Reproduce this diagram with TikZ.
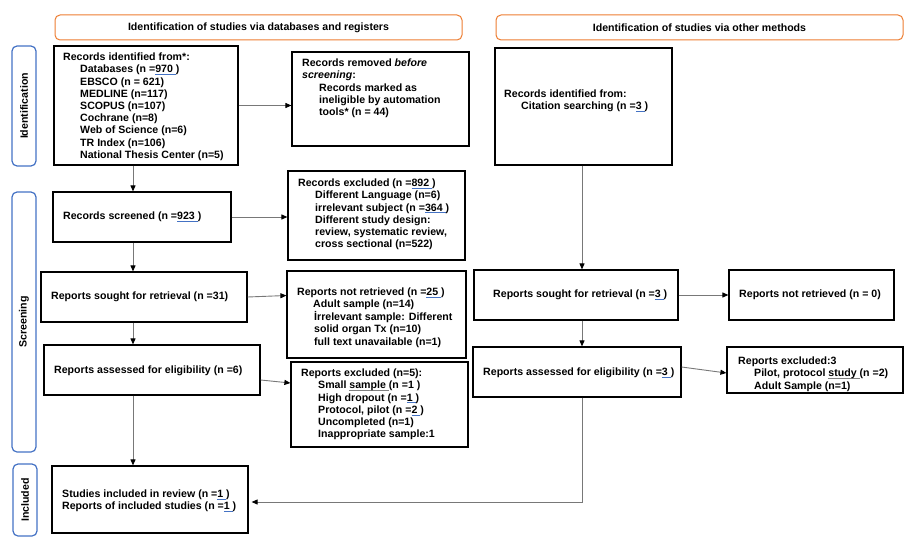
\documentclass[tikz,border=0pt]{standalone}
\usepackage{fontspec}
\setmainfont{Liberation Sans}
\usetikzlibrary{arrows.meta}
\definecolor{org}{HTML}{ED7D31}
\definecolor{blu}{HTML}{4472C4}
\definecolor{lnk}{RGB}{120,120,120}
\newcommand{\ulc}[2]{\setbox0\hbox{#2}\rlap{\textcolor{#1}{\rule[-1.8pt]{\wd0}{0.6pt}}}\box0}
\newcommand{\bu}[1]{\ulc{blu}{#1}}
\newcommand{\gu}[1]{\ulc{gray}{#1}}
\newcommand{\ind}{\hspace*{17pt}}
\newcommand{\lines}[1]{\begin{tabular}{@{}l@{}}#1\end{tabular}}
\begin{document}
\begin{tikzpicture}[x=1pt,y=-1pt,
  box/.style={draw=black,line width=1.2pt,inner sep=0pt},
  hdr/.style={draw=org,line width=1pt,rounded corners=5pt,inner sep=0pt,minimum width=407pt,minimum height=25pt,font=\bfseries\fontsize{10.6}{12.2}\selectfont},
  side/.style={draw=blu,line width=1.2pt,rounded corners=5pt,inner sep=0pt,minimum width=24pt},
  sidetxt/.style={rotate=90,font=\bfseries\fontsize{10.6}{12.2}\selectfont,inner sep=0pt},
  txt/.style={font=\bfseries\fontsize{10.6}{12.2}\selectfont,inner sep=0pt},
  arr/.style={draw=lnk,line width=0.9pt,-{Triangle[length=6pt,width=5pt,color=black]}}]
\useasboundingbox (0,0) rectangle (919,551);
% headers
\node[hdr] (h1) at (258.5,27.5) {Identification of studies via databases and registers};
\node[hdr] (h2) at (699.5,27.5) {Identification of studies via other methods};
% side labels
\node[side,minimum height=120pt] (s1) at (24,106) {};
\node[sidetxt] (s1t) at (s1.center) {Identification};
\node[side,minimum height=260pt] (s2) at (24,322) {};
\node[sidetxt] (s2t) at (s2.center) {Screening};
\node[side,minimum height=72pt] (s3) at (25,500) {};
\node[sidetxt] (s3t) at (s3.center) {Included};
% boxes
\node[box,minimum width=184pt,minimum height=119pt] (rid) at (146,105.5) {};
\node[box,minimum width=177pt,minimum height=94pt] (rrem) at (380.5,99) {};
\node[box,minimum width=178pt,minimum height=50pt] (rscr) at (142,217) {};
\node[box,minimum width=177pt,minimum height=89pt] (rexc) at (376.5,215.5) {};
\node[box,minimum width=206pt,minimum height=50pt] (sl) at (144,297) {};
\node[box,minimum width=179pt,minimum height=87pt] (nl) at (376.5,314.5) {};
\node[box,minimum width=216pt,minimum height=50pt] (al) at (152,370) {};
\node[box,minimum width=177pt,minimum height=85pt] (el) at (379.5,404.5) {};
\node[box,minimum width=196pt,minimum height=67pt] (inc) at (150,499.5) {};
\node[box,minimum width=177pt,minimum height=117pt] (ro) at (583.5,106.5) {};
\node[box,minimum width=204pt,minimum height=50pt] (sr) at (576,295) {};
\node[box,minimum width=165pt,minimum height=50pt] (nr) at (811.5,295) {};
\node[box,minimum width=208pt,minimum height=50pt] (ar) at (577,372) {};
\node[box,minimum width=176pt,minimum height=46pt] (er) at (815,370) {};
% texts
\node[txt,anchor=north west] (tid) at (63,52) {\lines{Records identified from*:\\
\ind Databases (n =\bu{970 })\\
\ind EBSCO (n = 621)\\
\ind MEDLINE (n=117)\\
\ind SCOPUS (n=107)\\
\ind Cochrane (n=8)\\
\ind Web of Science (n=6)\\
\ind TR Index (n=106)\\
\ind National Thesis Center (n=5)}};
\node[txt,anchor=north west] (trem) at (302,58) {\lines{Records removed \textit{before}\\
\textit{screening}:\\
\ind Records marked as\\
\ind ineligible by automation\\
\ind tools* (n = 44)}};
\node[txt,anchor=west] (tscr) at (63,217) {Records screened (n =\bu{923 })};
\node[txt,anchor=north west] (texc) at (298,178) {\lines{Records excluded (n =\bu{892 })\\
\ind Different Language (n=6)\\
\ind irrelevant subject (n =\bu{364 })\\
\ind Different study design:\\
\ind review, systematic review,\\
\ind cross sectional (n=522)}};
\node[txt,anchor=west] (tsl) at (51,297) {Reports sought for retrieval (n =31)};
\node[txt,anchor=north west] (tnl) at (297,287) {\lines{Reports not retrieved (n =\bu{25 })\\
\hspace*{16pt}Adult sample (n=14)\\
\ind İrrelevant sample: Different\\
\ind solid organ Tx (n=10)\\
\ind full text unavailable (n=1)}};
\node[txt,anchor=west] (tal) at (54,371) {Reports assessed for eligibility (n =6)};
\node[txt,anchor=north west] (tel) at (301,368) {\lines{Reports excluded (n=5):\\
\ind Small \gu{sample } (n =1 )\\
\ind High dropout (n =\bu{1 })\\
\ind Protocol, pilot (n =\bu{2 })\\
\ind Uncompleted (n=1)\\
\ind Inappropriate sample:1}};
\node[txt,anchor=north west] (tinc) at (62,489) {\lines{Studies included in review (n =\bu{1 })\\
Reports of included studies (n =\bu{1 })}};
\node[txt,anchor=north west] (tro) at (504,89) {\lines{Records identified from:\\
\ind Citation searching (n =\bu{3 })}};
\node[txt,anchor=west] (tsr) at (493,295) {Reports sought for retrieval (n =\bu{3 })};
\node[txt,anchor=west] (tnr) at (739,295) {Reports not retrieved (n = 0)};
\node[txt,anchor=west] (tar) at (483,373) {Reports assessed for eligibility (n =\bu{3 })};
\node[txt,anchor=north west] (ter) at (738,356) {\lines{Reports excluded:3\\
\hspace*{16pt}Pilot, protocol \gu{study } (n =2)\\
\hspace*{16pt}Adult Sample (n=1)}};
% connectors
\coordinate (xL) at (133,0);
\coordinate (xR) at (582,0);
\draw[arr] (rid.south -| xL) -- (rscr.north -| xL);
\draw[arr] (rscr.south -| xL) -- (sl.north -| xL);
\draw[arr] (sl.south -| xL) -- (al.north -| xL);
\draw[arr] (al.south -| xL) -- (inc.north -| xL);
\draw[arr] (rid.east) -- (rrem.west |- rid.east);
\draw[arr] (rscr.east) -- (rexc.west |- rscr.east);
\draw[arr] (sl.east) -- ([yshift=19pt]nl.west);
\draw[arr] ([yshift=-10pt]al.east) -- ([yshift=21.5pt]el.west);
\draw[arr] (ro.south -| xR) -- (sr.north -| xR);
\draw[arr] (sr.south -| xR) -- (ar.north -| xR);
\draw[arr] (sr.east) -- (nr.west);
\draw[arr] ([yshift=5pt]ar.east) -- ([yshift=-3pt]er.west);
\draw[arr] (ar.south -| xR) |- ([yshift=-2.5pt,xshift=3pt]inc.east);
\end{tikzpicture}
\end{document}
